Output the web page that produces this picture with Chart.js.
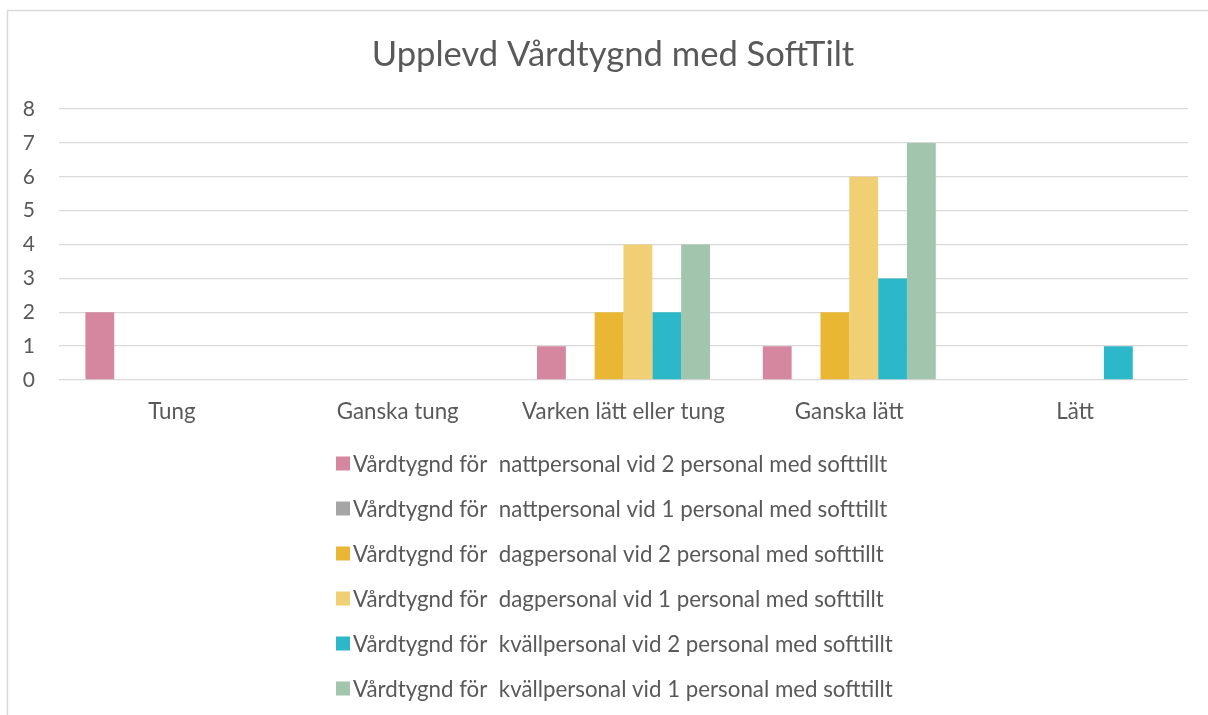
<!DOCTYPE html>
<html>
<head>
<meta charset="utf-8">
<script src="https://cdn.jsdelivr.net/npm/chart.js@4.4.0/dist/chart.umd.min.js"></script>
<style>
html, body { margin: 0; padding: 0; background: #fff; }
</style>
</head>
<body>
<canvas id="chart" width="1208" height="715"></canvas>
<script>
// data
var chartTitle = "Upplevd Vårdtygnd med SoftTilt";
var categories = ["Tung", "Ganska tung", "Varken lätt eller tung", "Ganska lätt", "Lätt"];
var seriesNames = [
	"Vårdtygnd för  nattpersonal vid 2 personal med softtillt",
	"Vårdtygnd för  nattpersonal vid 1 personal med softtillt",
	"Vårdtygnd för  dagpersonal vid 2 personal med softtillt",
	"Vårdtygnd för  dagpersonal vid 1 personal med softtillt",
	"Vårdtygnd för  kvällpersonal vid 2 personal med softtillt",
	"Vårdtygnd för  kvällpersonal vid 1 personal med softtillt"
];
var natt2 = [2, 0, 1, 1, 0];
var natt1 = [0, 0, 0, 0, 0];
var dag2 = [0, 0, 2, 2, 0];
var dag1 = [0, 0, 4, 6, 0];
var kvall2 = [0, 0, 2, 3, 1];
var kvall1 = [0, 0, 4, 7, 0];
var yMin = 0, yMax = 8, yStep = 1;

var seriesValues = [natt2, natt1, dag2, dag1, kvall2, kvall1];
var barColor = ["#D5879F", "#A5A5A5", "#E9B734", "#F0CF75", "#2DB8C9", "#A1C6AD"];
var textColor = "#595959";
var gridColor = "#D9D9D9";
var fontName = "Lato";

var datasets = [];
for (var i = 0; i < seriesValues.length; i++) {
	datasets.push({
		label: seriesNames[i],
		data: seriesValues[i],
		backgroundColor: barColor[i],
		borderWidth: 0,
		barPercentage: 1,
		categoryPercentage: 0.766
	});
}

// outer chart frame (cut off at right/bottom in the reference)
var framePlugin = {
	id: "frame",
	beforeDraw: function(chart) {
		var ctx = chart.ctx;
		ctx.save();
		ctx.fillStyle = "#fff";
		ctx.fillRect(0, 0, chart.width, chart.height);
		ctx.strokeStyle = gridColor;
		ctx.lineWidth = 1.5;
		ctx.strokeRect(7.5, 10.5, chart.width + 20, chart.height + 20);
		ctx.restore();
	}
};

// title sits a bit right of the canvas centre in the original, so draw it here
var titlePlugin = {
	id: "offsetTitle",
	afterDraw: function(chart) {
		var ctx = chart.ctx;
		ctx.save();
		ctx.font = "34.6px " + fontName;
		ctx.fillStyle = textColor;
		ctx.textAlign = "center";
		ctx.textBaseline = "middle";
		ctx.fillText(chartTitle, 613, 55);
		ctx.restore();
	}
};

// one legend entry per row, like the original
var listLegend = {
	id: "listLegend",
	afterDraw: function(chart) {
		var ctx = chart.ctx;
		var x = 336, y = 463.5, rowGap = 45, box = 14;
		ctx.save();
		ctx.font = "22.3px " + fontName;
		ctx.textBaseline = "middle";
		ctx.textAlign = "left";
		chart.data.datasets.forEach(function(ds, idx) {
			var cy = y + idx * rowGap;
			ctx.fillStyle = ds.backgroundColor;
			ctx.fillRect(x, cy - box / 2, box, box);
			ctx.fillStyle = textColor;
			ctx.fillText(ds.label, x + 17, cy + 1);
		});
		ctx.restore();
	}
};

new Chart(document.getElementById("chart"), {
	type: "bar",
	data: {
		labels: categories,
		datasets: datasets
	},
	options: {
		responsive: false,
		animation: false,
		layout: { padding: { left: 0, right: 20, top: 109, bottom: 0 } },
		plugins: {
			legend: { display: false },
			tooltip: { enabled: false },
			title: { display: false }
		},
		scales: {
			x: {
				grid: { display: false },
				border: { display: false },
				ticks: { color: textColor, font: { family: fontName, size: 22.3 }, padding: 10, maxRotation: 0 },
				afterFit: function(scale) { scale.height = 335; }
			},
			y: {
				min: yMin,
				max: yMax,
				ticks: { stepSize: yStep, color: textColor, font: { family: fontName, size: 21 }, padding: 24 },
				grid: { color: gridColor, lineWidth: 1.3, drawTicks: false },
				border: { display: false },
				afterFit: function(scale) { scale.width = 59; }
			}
		}
	},
	plugins: [framePlugin, titlePlugin, listLegend]
});
</script>
</body>
</html>
